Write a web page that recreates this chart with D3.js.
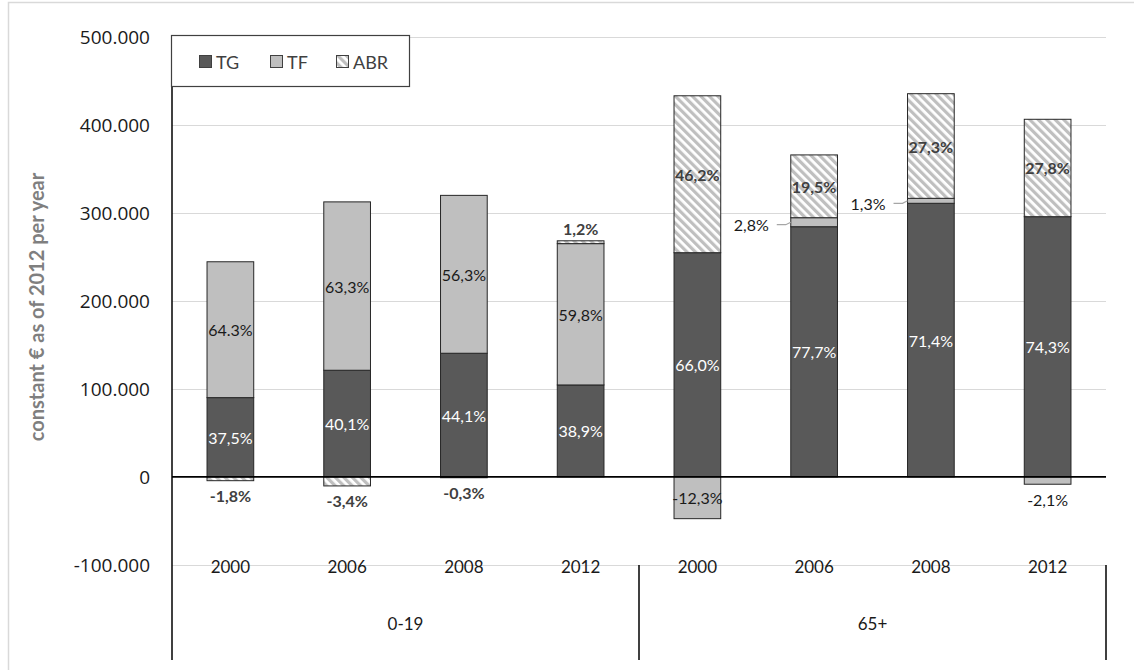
<!DOCTYPE html>
<html>
<head>
<meta charset="utf-8">
<script src="https://cdn.jsdelivr.net/npm/d3@7"></script>
<style>
  body { margin: 0; background: #fff; }
  svg text { font-family: Lato, "Open Sans", sans-serif; }
</style>
</head>
<body>
<svg id="chart" width="1134" height="670"></svg>
<script>
// Age groups and survey years on the two-level category axis
const ageGroups = ["0-19", "65+"];
const years = ["2000", "2006", "2008", "2012"];
const seriesNames = ["TG", "TF", "ABR"];

// Values in constant € as of 2012 per year, one per group/year (0-19 first, then 65+)
const tgValues  = [90000, 121100, 140400, 104400, 254600, 284100, 310700, 295500];
const tfValues  = [154300, 191200, 179300, 160500, -47450, 10240, 5660, -8350];
const abrValues = [-4320, -10270, -955, 3220, 178200, 71300, 118800, 110600];

// Share of the net total carried by each component
const tgLabels  = ["37,5%", "40,1%", "44,1%", "38,9%", "66,0%", "77,7%", "71,4%", "74,3%"];
const tfLabels  = ["64.3%", "63,3%", "56,3%", "59,8%", "-12,3%", "2,8%", "1,3%", "-2,1%"];
const abrLabels = ["-1,8%", "-3,4%", "-0,3%", "1,2%", "46,2%", "19,5%", "27,3%", "27,8%"];

const yTicks = [-100000, 0, 100000, 200000, 300000, 400000, 500000];

const svg = d3.select("#chart");
const plot = { left: 172, right: 1106, top: 36.6, bottom: 653 };

const locale = d3.formatLocale({ decimal: ",", thousands: ".", grouping: [3], currency: ["", "€"], minus: "-" });
const fmt = locale.format(",");

const keys = ageGroups.flatMap(g => years.map(yr => g + "|" + yr));
const rows = keys.map((k, i) => ({ key: k, TG: tgValues[i], TF: tfValues[i], ABR: abrValues[i] }));
const labelsBySeries = { TG: tgLabels, TF: tfLabels, ABR: abrLabels };

const x = d3.scaleBand().domain(keys).range([plot.left, plot.right]).paddingInner(0.6).paddingOuter(0.3);
const y = d3.scaleLinear().domain([-200000, 500000]).range([plot.bottom, plot.top]);

// hatch pattern for ABR
const defs = svg.append("defs");
const pat = defs.append("pattern")
  .attr("id", "hatch").attr("patternUnits", "userSpaceOnUse")
  .attr("width", 6).attr("height", 6)
  .attr("patternTransform", "rotate(-45)");
pat.append("rect").attr("width", 6).attr("height", 6).attr("fill", "#fff");
pat.append("rect").attr("width", 3.2).attr("height", 6).attr("fill", "#bfbfbf");

const fills = { TG: "#595959", TF: "#bfbfbf", ABR: "url(#hatch)" };

// outer frame
svg.append("rect").attr("x", 8.5).attr("y", 2.5).attr("width", 1200).attr("height", 700)
  .attr("fill", "none").attr("stroke", "#d9d9d9").attr("stroke-width", 1.5);

// gridlines
svg.append("g").selectAll("line").data(yTicks.filter(t => t !== 0)).join("line")
  .attr("x1", plot.left).attr("x2", plot.right)
  .attr("y1", d => Math.round(y(d)) + 0.5).attr("y2", d => Math.round(y(d)) + 0.5)
  .attr("stroke", "#d9d9d9").attr("stroke-width", 1.2);

// y tick labels
svg.append("g").selectAll("text").data(yTicks).join("text")
  .attr("x", 150).attr("y", d => y(d))
  .attr("text-anchor", "end").attr("dominant-baseline", "central")
  .style("font-family", "'Open Sans', sans-serif")
  .attr("font-size", 19).attr("fill", "#1a1a1a")
  .text(d => fmt(d));

// y axis title
svg.append("text")
  .attr("transform", "translate(36," + 307 + ") rotate(-90)")
  .attr("text-anchor", "middle").attr("dominant-baseline", "central")
  .attr("font-size", 20).attr("font-weight", "bold").attr("fill", "#7f7f7f")
  .text("constant € as of 2012 per year");

// stacked bars (positive parts upward, negative parts downward)
const stacked = d3.stack().keys(seriesNames).offset(d3.stackOffsetDiverging)(rows);
const barG = svg.append("g");
stacked.forEach(layer => {
  barG.append("g").selectAll("rect").data(layer).join("rect")
    .attr("x", d => x(d.data.key))
    .attr("width", x.bandwidth())
    .attr("y", d => y(Math.max(d[0], d[1])))
    .attr("height", d => Math.abs(y(d[0]) - y(d[1])))
    .attr("fill", fills[layer.key])
    .attr("stroke", "#262626").attr("stroke-width", 1);
});

// zero line
svg.append("line").attr("x1", plot.left).attr("x2", plot.right)
  .attr("y1", y(0)).attr("y2", y(0)).attr("stroke", "#000").attr("stroke-width", 1.6);

// segment labels
const labelG = svg.append("g");
const labelStyle = {
  TG: { fill: "#ffffff", weight: "normal" },
  TF: { fill: "#1a1a1a", weight: "normal" },
  ABR: { fill: "#404040", weight: "bold" }
};
stacked.forEach(layer => {
  const s = layer.key;
  layer.forEach((d, j) => {
    const v = d.data[s];
    const lo = Math.min(d[0], d[1]), hi = Math.max(d[0], d[1]);
    const yTop = y(hi), yBot = y(lo);
    const h = yBot - yTop;
    const cx = x(d.data.key) + x.bandwidth() / 2;
    const cy = (yTop + yBot) / 2;
    const maxTop = d3.max(stacked, l => Math.max(l[j][0], l[j][1]));
    const minBot = d3.min(stacked, l => Math.min(l[j][0], l[j][1]));
    const txt = labelsBySeries[s][j];
    const st = labelStyle[s];
    let lx = cx, ly = cy, anchor = "middle";
    if (h < 18) {
      if (v > 0 && hi === maxTop) {
        ly = yTop - 12;
      } else if (v < 0 && lo === minBot) {
        ly = yBot + 15;
      } else {
        // small middle segment: label to the left with a leader line
        const left = x(d.data.key);
        anchor = "end";
        lx = left - 22;
        ly = cy + 2.5;
        labelG.append("polyline")
          .attr("points", [[left - 14, ly], [left - 5, ly], [left, cy]].map(p => p.join(",")).join(" "))
          .attr("fill", "none").attr("stroke", "#a6a6a6").attr("stroke-width", 1.2);
      }
    }
    labelG.append("text")
      .attr("x", lx).attr("y", ly)
      .attr("text-anchor", anchor).attr("dominant-baseline", "central")
      .attr("font-size", 16).attr("font-weight", st.weight)
      .attr("fill", h < 18 && s === "TG" ? "#1a1a1a" : st.fill)
      .text(txt);
  });
});

// category axis: vertical axis line and group separators
svg.append("line").attr("x1", plot.left).attr("x2", plot.left)
  .attr("y1", 87).attr("y2", 660).attr("stroke", "#000").attr("stroke-width", 1.5);
const sepX = [x(keys[4]) - x.step() * x.paddingInner() / 2, plot.right];
svg.append("g").selectAll("line").data(sepX).join("line")
  .attr("x1", d => d).attr("x2", d => d)
  .attr("y1", y(-100000)).attr("y2", 660)
  .attr("stroke", "#000").attr("stroke-width", 1.5);

// year labels
svg.append("g").selectAll("text").data(keys).join("text")
  .attr("x", d => x(d) + x.bandwidth() / 2).attr("y", 566)
  .attr("text-anchor", "middle").attr("dominant-baseline", "central")
  .attr("font-size", 17).attr("fill", "#1a1a1a")
  .text(d => d.split("|")[1]);

// age group labels
svg.append("g").selectAll("text").data(ageGroups).join("text")
  .attr("x", g => {
    const ks = keys.filter(k => k.startsWith(g + "|"));
    return (x(ks[0]) + x(ks[ks.length - 1]) + x.bandwidth()) / 2;
  })
  .attr("y", 623)
  .attr("text-anchor", "middle").attr("dominant-baseline", "central")
  .attr("font-size", 17).attr("fill", "#1a1a1a")
  .text(g => g);

// legend
const lg = svg.append("g");
lg.append("rect").attr("x", 171.5).attr("y", 35.5).attr("width", 238).attr("height", 51)
  .attr("fill", "#fff").attr("stroke", "#404040").attr("stroke-width", 1.2);
const legendX = [199, 270, 336];
seriesNames.forEach((s, i) => {
  lg.append("rect").attr("x", legendX[i] + 0.5).attr("y", 55.5).attr("width", 12).attr("height", 12)
    .attr("fill", fills[s]).attr("stroke", "#404040").attr("stroke-width", 1);
  lg.append("text").attr("x", legendX[i] + 17).attr("y", 61.5)
    .attr("dominant-baseline", "central").attr("font-size", 18).attr("fill", "#404040")
    .text(s);
});
</script>
</body>
</html>
